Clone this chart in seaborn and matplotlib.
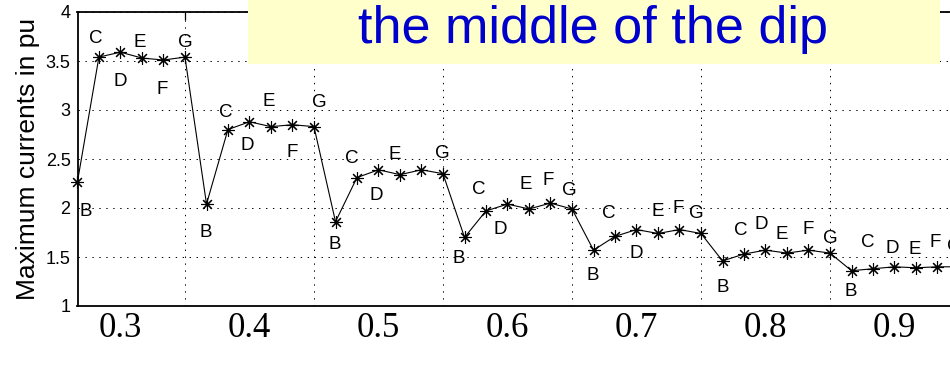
import matplotlib
matplotlib.use("Agg")
import matplotlib.pyplot as plt
import seaborn as sns
import pandas as pd
from matplotlib.patches import Rectangle

# ---------------- data ----------------
x_pos = [0.2667, 0.2833, 0.3000, 0.3167, 0.3333, 0.3500,
         0.3667, 0.3833, 0.4000, 0.4167, 0.4333, 0.4500,
         0.4667, 0.4833, 0.5000, 0.5167, 0.5333, 0.5500,
         0.5667, 0.5833, 0.6000, 0.6167, 0.6333, 0.6500,
         0.6667, 0.6833, 0.7000, 0.7167, 0.7333, 0.7500,
         0.7667, 0.7833, 0.8000, 0.8167, 0.8333, 0.8500,
         0.8667, 0.8833, 0.9000, 0.9167, 0.9333, 0.9500]
currents = [2.27, 3.54, 3.59, 3.53, 3.51, 3.54,
            2.04, 2.80, 2.88, 2.83, 2.85, 2.83,
            1.86, 2.31, 2.39, 2.34, 2.39, 2.35,
            1.70, 1.97, 2.04, 1.99, 2.05, 1.99,
            1.57, 1.71, 1.78, 1.74, 1.78, 1.74,
            1.46, 1.53, 1.57, 1.54, 1.57, 1.54,
            1.36, 1.38, 1.40, 1.39, 1.40, 1.40]
point_letters = ["B", "C", "D", "E", "F", "G",
                 "B", "C", "D", "E", "F", "G",
                 "B", "C", "D", "E", "", "G",
                 "B", "C", "D", "E", "F", "G",
                 "B", "C", "D", "E", "F", "G",
                 "B", "C", "D", "E", "F", "G",
                 "B", "C", "D", "E", "F", "G"]
xtick_labels = ["0.3", "0.4", "0.5", "0.6", "0.7", "0.8", "0.9"]
xtick_values = [0.3, 0.4, 0.5, 0.6, 0.7, 0.8, 0.9]
xgrid_values = [0.35, 0.45, 0.55, 0.65, 0.75, 0.85, 0.95]
ytick_values = [1, 1.5, 2, 2.5, 3, 3.5, 4]
ytick_labels = ["1", "1.5", "2", "2.5", "3", "3.5", "4"]
y_label = "Maximum currents in pu"
title_text = "the middle of the dip"

# label offsets in pixels (dx right, dy down) -- layout only
label_offsets = [(8, 30), (-3, -19), (0, 29), (-2, -16), (-1, 29), (0, -15),
                 (-1, 28), (-2, -17), (-2, 24), (-2, -25), (0, 28), (5, -24),
                 (-1, 23), (-5, -19), (-2, 26), (-5, -20), (0, 0), (-1, -20),
                 (-6, 21), (-7, -21), (-7, 25), (-3, -24), (-2, -23), (-3, -18),
                 (-1, 25), (-6, -23), (0, 24), (0, -22), (-1, -21), (-5, -20),
                 (0, 27), (-3, -24), (-4, -26), (-5, -19), (0, -21), (0, -15),
                 (-1, 21), (-5, -26), (-2, -18), (-1, -18), (-2, -24), (-5, -20)]

# ---------------- style ----------------
sns.set_style("white")
plt.rcParams["font.family"] = ["Liberation Sans", "DejaVu Sans"]
plt.rcParams["lines.scale_dashes"] = False

W, H = 950, 366
fig = plt.figure(figsize=(W / 100, H / 100), dpi=100)
left_px, right_px = 77.5, 959.0
top_px, bottom_px = 12.0, 306.0
ax = fig.add_axes([left_px / W, 1 - bottom_px / H,
                   (right_px - left_px) / W, (bottom_px - top_px) / H])

df = pd.DataFrame({"x": x_pos, "y": currents})
sns.lineplot(data=df, x="x", y="y", ax=ax, color="black", linewidth=0.8,
             marker=(8, 2, 0), markersize=9, markeredgewidth=0.8,
             markeredgecolor="black", estimator=None, sort=False,
             clip_on=False, zorder=3)

ax.set_xlim(x_pos[0], x_pos[-1])
ax.set_ylim(1, 4)

ax.set_xticks(xgrid_values)
ax.set_xticklabels([""] * len(xgrid_values))
ax.set_xticks(xtick_values, minor=True)
ax.set_xticklabels(xtick_labels, minor=True)
ax.set_yticks(ytick_values)
ax.set_yticklabels(ytick_labels)

ax.tick_params(axis="both", which="major", direction="in", length=6,
               width=0.9, color="black", top=True, right=True)
ax.tick_params(axis="y", labelsize=13, pad=5, labelcolor="black")
ax.tick_params(axis="x", which="minor", length=0, labelsize=25, pad=4,
               labelcolor="black")
for lbl in ax.get_xticklabels(minor=True):
    lbl.set_fontfamily(["Liberation Serif", "DejaVu Serif"])

ax.grid(True, which="major", linestyle=(0, (1, 4)), color="black",
        linewidth=0.7)
ax.set_axisbelow(True)
for side, sp in ax.spines.items():
    sp.set_visible(True)
    sp.set_color("black")
    sp.set_linewidth(1.3)

ax.set_xlabel("")
ax.set_ylabel(y_label, fontsize=19, color="black")
ax.yaxis.set_label_coords(-0.043, 0.5)

for xv, yv, txt, (dx, dy) in zip(x_pos, currents, point_letters, label_offsets):
    if txt:
        ax.annotate(txt, (xv, yv), xytext=(dx, -dy), textcoords="offset pixels",
                    ha="center", va="center", fontsize=13.5, color="black",
                    annotation_clip=False, zorder=4)

# title box overlay
box = Rectangle((248 / W, 1 - 64 / H), (940 - 248) / W, 64 / H,
                transform=fig.transFigure, facecolor="#FFFFCC",
                edgecolor="none", zorder=5)
fig.patches.append(box)
fig.text(593 / W, 1 - 43 / H, title_text, ha="center", va="baseline",
         fontsize=37.5, color="#0000CC", zorder=6)

fig.savefig("out.png", dpi=100)
